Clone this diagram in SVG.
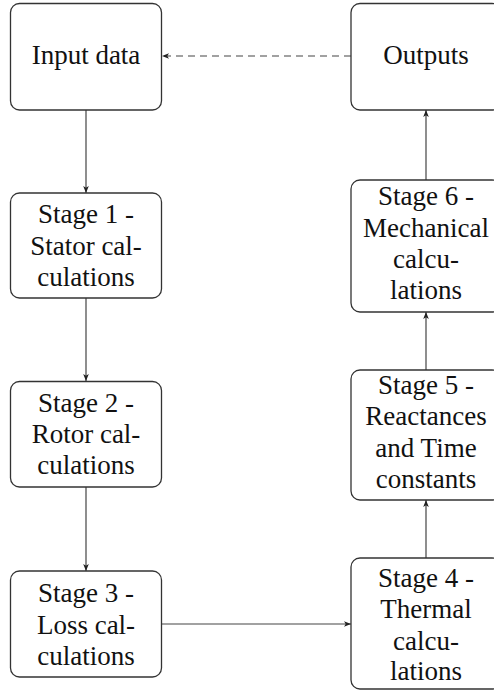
<svg xmlns="http://www.w3.org/2000/svg" width="494" height="691" viewBox="0 0 494 691">
<defs>
<style>
.box{fill:#fff;stroke:#333;stroke-width:1.3}
.t{font-size:27px;fill:#111;text-anchor:middle}
.c{fill:none;stroke:#444;stroke-width:1.2}
.d{stroke-dasharray:7,5}
</style>
<marker id="ah" viewBox="0 0 10 10" refX="10" refY="5" markerWidth="7" markerHeight="7" markerUnits="userSpaceOnUse" orient="auto">
<path d="M0,1 L10,5 L0,9 L2.5,5 Z" fill="#222"/>
</marker>
</defs>
<rect width="494" height="691" fill="#fff"/>
<g id="connectors">
<line class="c" x1="86" y1="110" x2="86" y2="193" marker-end="url(#ah)"/>
<line class="c" x1="86" y1="298" x2="86" y2="381" marker-end="url(#ah)"/>
<line class="c" x1="86" y1="487" x2="86" y2="571" marker-end="url(#ah)"/>
<line class="c" x1="161" y1="624" x2="351" y2="624" marker-end="url(#ah)"/>
<line class="c" x1="426" y1="558" x2="426" y2="500" marker-end="url(#ah)"/>
<line class="c" x1="426" y1="370" x2="426" y2="312" marker-end="url(#ah)"/>
<line class="c" x1="426" y1="180" x2="426" y2="110" marker-end="url(#ah)"/>
<line class="c d" x1="351" y1="56" x2="162" y2="56" marker-end="url(#ah)"/>
</g>
<g font-family="'Liberation Serif', 'Times New Roman', Times, 'DejaVu Serif', 'Noto Serif', serif">
<g id="input">
<rect class="box" x="10.5" y="3.5" width="151" height="106.5" rx="9"/>
<text class="t" x="86" y="64">Input data</text>
</g>
<g id="outputs">
<rect class="box" x="351" y="3.5" width="150" height="106.5" rx="9"/>
<text class="t" x="426" y="64">Outputs</text>
</g>
<g id="stage1">
<rect class="box" x="10.5" y="193" width="151" height="105" rx="9"/>
<text class="t" x="86" y="223">Stage 1 -</text>
<text class="t" x="86" y="255">Stator cal-</text>
<text class="t" x="86" y="286">culations</text>
</g>
<g id="stage2">
<rect class="box" x="10.5" y="381.5" width="151" height="105.5" rx="9"/>
<text class="t" x="86" y="412">Stage 2 -</text>
<text class="t" x="86" y="443">Rotor cal-</text>
<text class="t" x="86" y="474">culations</text>
</g>
<g id="stage3">
<rect class="box" x="10.5" y="571" width="151" height="106" rx="9"/>
<text class="t" x="86" y="602">Stage 3 -</text>
<text class="t" x="86" y="634">Loss cal-</text>
<text class="t" x="86" y="665">culations</text>
</g>
<g id="stage4">
<rect class="box" x="351" y="558" width="150" height="131" rx="9"/>
<text class="t" x="426" y="587">Stage 4 -</text>
<text class="t" x="426" y="618">Thermal</text>
<text class="t" x="426" y="650">calcu-</text>
<text class="t" x="426" y="680">lations</text>
</g>
<g id="stage5">
<rect class="box" x="351" y="370" width="150" height="130" rx="9"/>
<text class="t" x="426" y="394">Stage 5 -</text>
<text class="t" x="426" y="425">Reactances</text>
<text class="t" x="426" y="457">and Time</text>
<text class="t" x="426" y="488">constants</text>
</g>
<g id="stage6">
<rect class="box" x="351" y="180" width="150" height="132" rx="9"/>
<text class="t" x="426" y="205">Stage 6 -</text>
<text class="t" x="426" y="237">Mechanical</text>
<text class="t" x="426" y="268">calcu-</text>
<text class="t" x="426" y="299">lations</text>
</g>
</g>
</svg>
